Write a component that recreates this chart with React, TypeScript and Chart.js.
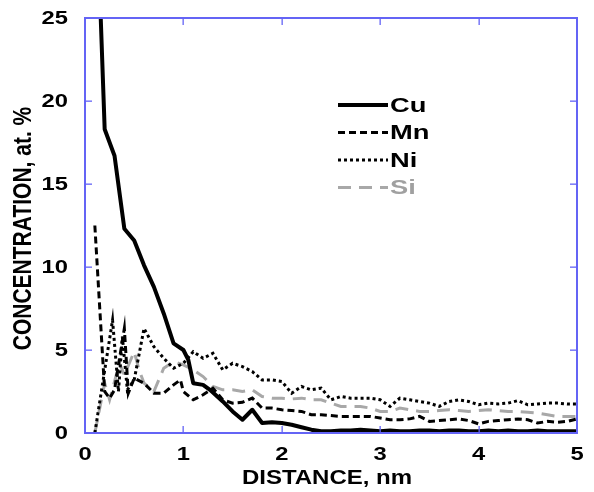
import React, { useEffect, useRef } from 'react';
import { Chart, registerables } from 'chart.js';

Chart.register(...registerables);

// ---- data ----
const cuX = [0.1, 0.2, 0.3, 0.4, 0.5, 0.6, 0.7, 0.8, 0.9, 1.0, 1.05, 1.1, 1.2, 1.27, 1.4, 1.5, 1.6, 1.7, 1.8, 1.9, 2.0, 2.1, 2.2, 2.3, 2.4, 2.5, 2.6, 2.7, 2.8, 2.9, 3.0, 3.1, 3.2, 3.3, 3.4, 3.5, 3.6, 3.7, 3.8, 3.9, 4.0, 4.1, 4.2, 4.3, 4.4, 4.5, 4.6, 4.7, 4.8, 4.9, 5.0];
const cuY = [35, 18.3, 16.7, 12.3, 11.6, 10.1, 8.8, 7.2, 5.4, 5.0, 4.4, 3.0, 2.9, 2.6, 1.9, 1.3, 0.8, 1.4, 0.6, 0.65, 0.6, 0.5, 0.35, 0.2, 0.1, 0.1, 0.15, 0.15, 0.2, 0.15, 0.1, 0.15, 0.1, 0.1, 0.15, 0.15, 0.1, 0.15, 0.15, 0.1, 0.1, 0.15, 0.1, 0.15, 0.1, 0.1, 0.15, 0.1, 0.1, 0.1, 0.1];

const mnX = [0.1, 0.2, 0.25, 0.3, 0.4, 0.44, 0.5, 0.6, 0.7, 0.8, 0.9, 0.97, 1.0, 1.1, 1.2, 1.3, 1.4, 1.5, 1.6, 1.7, 1.8, 1.9, 2.0, 2.1, 2.2, 2.3, 2.4, 2.5, 2.6, 2.7, 2.8, 2.9, 3.0, 3.1, 3.2, 3.3, 3.4, 3.5, 3.6, 3.7, 3.8, 3.9, 4.0, 4.1, 4.2, 4.3, 4.4, 4.5, 4.6, 4.7, 4.8, 4.9, 5.0];
const mnY = [12.5, 2.5, 2.1, 2.6, 6.3, 2.4, 3.3, 3.0, 2.4, 2.4, 2.9, 3.2, 2.5, 2.0, 2.3, 2.7, 2.0, 1.8, 1.85, 2.1, 1.5, 1.5, 1.4, 1.35, 1.3, 1.1, 1.1, 1.05, 1.0, 1.0, 1.0, 1.0, 0.9, 0.8, 0.8, 0.85, 1.0, 0.7, 0.75, 0.8, 0.85, 0.75, 0.55, 0.7, 0.75, 0.8, 0.85, 0.8, 0.6, 0.7, 0.65, 0.7, 0.85];

const niX = [0.1, 0.28, 0.34, 0.38, 0.43, 0.5, 0.6, 0.7, 0.8, 0.9, 1.0, 1.1, 1.2, 1.3, 1.4, 1.5, 1.6, 1.7, 1.8, 1.9, 2.0, 2.1, 2.2, 2.3, 2.4, 2.5, 2.6, 2.7, 2.8, 2.9, 3.0, 3.1, 3.2, 3.3, 3.4, 3.5, 3.6, 3.7, 3.8, 3.9, 4.0, 4.1, 4.2, 4.3, 4.4, 4.5, 4.6, 4.7, 4.8, 4.9, 5.0];
const niY = [0, 6.8, 2.5, 5.8, 2.6, 3.2, 6.3, 5.2, 4.5, 3.9, 4.2, 4.9, 4.5, 4.8, 3.8, 4.2, 4.0, 3.7, 3.2, 3.2, 3.1, 2.4, 2.8, 2.6, 2.7, 2.0, 2.2, 2.1, 2.1, 2.1, 2.0, 1.6, 2.1, 2.0, 1.9, 1.8, 1.6, 1.9, 2.0, 1.9, 1.7, 1.8, 1.75, 1.8, 1.95, 1.7, 1.75, 1.8, 1.8, 1.75, 1.75];

const siX = [0.1, 0.2, 0.25, 0.35, 0.4, 0.5, 0.55, 0.6, 0.7, 0.8, 0.9, 1.0, 1.1, 1.2, 1.3, 1.4, 1.5, 1.6, 1.7, 1.8, 1.9, 2.0, 2.1, 2.2, 2.3, 2.4, 2.5, 2.6, 2.7, 2.8, 2.9, 3.0, 3.1, 3.2, 3.3, 3.4, 3.5, 3.6, 3.7, 3.8, 3.9, 4.0, 4.1, 4.2, 4.3, 4.4, 4.5, 4.6, 4.7, 4.8, 4.9, 5.0];
const siY = [0, 3.0, 2.0, 4.2, 3.5, 4.9, 3.8, 3.0, 2.5, 3.9, 4.3, 4.1, 3.8, 3.4, 2.8, 2.6, 2.6, 2.5, 2.6, 2.2, 2.1, 2.1, 2.05, 2.1, 2.0, 2.0, 1.8, 1.6, 1.6, 1.6, 1.5, 1.3, 1.3, 1.5, 1.4, 1.3, 1.3, 1.35, 1.4, 1.35, 1.3, 1.35, 1.4, 1.35, 1.3, 1.3, 1.25, 1.2, 1.1, 1.0, 1.0, 1.0];

const xTicks = [0, 1, 2, 3, 4, 5];
const yTicks = [0, 5, 10, 15, 20, 25];
const seriesNames = ['Cu', 'Mn', 'Ni', 'Si'];
const xTitle = 'DISTANCE, nm';
const yTitle = 'CONCENTRATION, at. %';

const FONT = "'Liberation Sans', Arial, sans-serif";
const AXIS_BLUE = 'rgb(100,100,245)';

const pts = (xs: number[], ys: number[]) => xs.map((x, i) => ({ x, y: ys[i] }));

function drawText(
  ctx: CanvasRenderingContext2D,
  text: string,
  x: number,
  y: number,
  size: number,
  sx: number,
  align: CanvasTextAlign,
  color: string,
  rotated = false
) {
  ctx.save();
  ctx.translate(x, y);
  if (rotated) {
    ctx.rotate(-Math.PI / 2);
    ctx.scale(1, sx);
  } else {
    ctx.scale(sx, 1);
  }
  ctx.font = `bold ${size}px ${FONT}`;
  ctx.fillStyle = color;
  ctx.textAlign = align;
  ctx.textBaseline = 'middle';
  ctx.fillText(text, 0, 0);
  ctx.restore();
}

function drawFrame(chart: any) {
  const { ctx, chartArea, scales } = chart;
  const L = Math.round(chartArea.left);
  const R = Math.round(chartArea.right);
  const T = Math.round(chartArea.top);
  const B = Math.round(chartArea.bottom);
  const tl = 7;
  ctx.save();
  ctx.globalAlpha = 1;
  ctx.fillStyle = AXIS_BLUE;
  ctx.fillRect(L - 1, T - 1, R - L + 2, 2);
  ctx.fillRect(L - 1, B - 1, R - L + 2, 2);
  ctx.fillRect(L - 1, T - 1, 2, B - T + 2);
  ctx.fillRect(R - 1, T - 1, 2, B - T + 2);
  xTicks.forEach((v) => {
    const px = Math.round(scales.x.getPixelForValue(v));
    ctx.fillRect(px - 0.5, B - tl, 1.3, tl);
    ctx.fillRect(px - 0.5, T, 1.3, tl);
  });
  yTicks.forEach((v) => {
    const py = Math.round(scales.y.getPixelForValue(v));
    ctx.fillRect(L, py - 0.5, tl, 1.3);
    ctx.fillRect(R - tl, py - 0.5, tl, 1.3);
  });
  ctx.restore();
}

function drawAxisText(chart: any) {
  const { ctx, chartArea, scales } = chart;
  const { left, right, top, bottom } = chartArea;
  xTicks.forEach((v) => {
    drawText(ctx, String(v), scales.x.getPixelForValue(v), bottom + 22, 19, 1.25, 'center', '#000');
  });
  yTicks.forEach((v) => {
    drawText(ctx, String(v), left - 17, scales.y.getPixelForValue(v) + 1, 19, 1.25, 'right', '#000');
  });
  drawText(ctx, xTitle, (left + right) / 2 - 4, bottom + 45, 20, 1.2, 'center', '#000');
  drawText(ctx, yTitle, 24, (top + bottom) / 2 + 3, 21, 1.2, 'center', '#000', true);
}

function drawLegend(chart: any) {
  const { ctx, chartArea } = chart;
  const x0 = chartArea.left + 253;
  const y0 = chartArea.top + 87;
  const rowH = 27.5;
  chart.data.datasets.forEach((ds: any, i: number) => {
    const y = y0 + i * rowH;
    ctx.save();
    ctx.beginPath();
    ctx.strokeStyle = ds.borderColor;
    ctx.lineWidth = ds.borderWidth;
    ctx.setLineDash(ds.borderDash || []);
    ctx.lineCap = 'butt';
    ctx.moveTo(x0, y);
    ctx.lineTo(x0 + 50, y);
    ctx.stroke();
    ctx.restore();
    drawText(ctx, ds.label, x0 + 52, y + 1, 21, 1.3, 'left', i === 3 ? '#a0a0a0' : '#000');
  });
}

const framePlugin = {
  id: 'frame',
  afterDraw(chart: any) {
    drawAxisText(chart);
    drawLegend(chart);
    drawFrame(chart);
  },
};

export default function App() {
  const ref = useRef<HTMLCanvasElement | null>(null);
  useEffect(() => {
    if (!ref.current) return;
    const chart = new Chart(ref.current, {
      type: 'line',
      data: {
        datasets: [
          { label: seriesNames[0], data: pts(cuX, cuY), borderColor: '#000', borderWidth: 4, borderDash: [], pointRadius: 0, tension: 0, borderJoinStyle: 'round' },
          { label: seriesNames[1], data: pts(mnX, mnY), borderColor: '#000', borderWidth: 3, borderDash: [7, 4], pointRadius: 0, tension: 0 },
          { label: seriesNames[2], data: pts(niX, niY), borderColor: '#000', borderWidth: 3, borderDash: [3, 3], pointRadius: 0, tension: 0 },
          { label: seriesNames[3], data: pts(siX, siY), borderColor: '#a8a8a8', borderWidth: 3, borderDash: [13, 8], pointRadius: 0, tension: 0 },
        ] as any,
      },
      options: {
        responsive: false,
        animation: false,
        events: [],
        layout: { padding: { top: 18, right: 17, left: 0, bottom: 0 } },
        plugins: { legend: { display: false }, tooltip: { enabled: false } },
        scales: {
          x: {
            type: 'linear',
            min: 0,
            max: 5,
            afterFit: (s: any) => { s.height = 59; },
            grid: { display: false, drawTicks: false },
            border: { display: false },
            ticks: { display: false },
          },
          y: {
            type: 'linear',
            min: 0,
            max: 25,
            afterFit: (s: any) => { s.width = 85; },
            grid: { display: false, drawTicks: false },
            border: { display: false },
            ticks: { display: false },
          },
        },
      },
      plugins: [framePlugin],
    });
    return () => chart.destroy();
  }, []);
  return (
    <div style={{ position: 'fixed', left: 0, top: 0, width: 594, height: 492, background: '#fff' }}>
      <canvas ref={ref} width={594} height={492} />
    </div>
  );
}
